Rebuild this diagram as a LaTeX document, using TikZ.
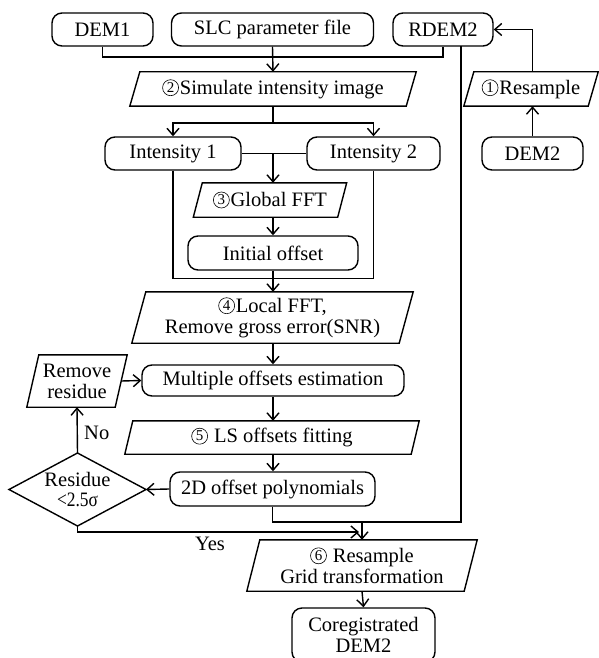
\documentclass[tikz,border=0pt]{standalone}
\usepackage{fontspec}
\setmainfont{Liberation Serif}
\usetikzlibrary{arrows.meta,shapes.geometric,calc}
\newcommand\cn[1]{\tikz[baseline=-6.5pt,x=1pt,y=1pt]{\draw[line width=0.6pt] (0,0) circle (8pt); \node[inner sep=0pt,minimum width=0pt,minimum height=0pt,align=center,font=\fontsize{15}{15}\selectfont] (cn#1) at (0,0.3) {#1};}\hspace{1pt}}
\tikzset{
  ln/.style={line width=1.4pt},
  arr/.style={ln,-{Straight Barb[length=7pt,width=12pt,line width=1.4pt]}},
  rbox/.style={ln,draw,rounded corners=10pt,inner sep=0pt,align=center},
  plain/.style={inner sep=0pt,align=center},
  lbl/.style={inner sep=0pt}
}
\newcommand\paranode[7]{%
  \node[plain,minimum width=#4pt,minimum height=#5pt] (#1) at (#2,#3) {#7};
  \draw[ln] (#1.south west) -- ([xshift=#6pt]#1.north west) -- (#1.north east) -- ([xshift=-#6pt]#1.south east) -- cycle;
}
\begin{document}
\begin{tikzpicture}[x=1pt,y=-1pt,font=\fontsize{20.5}{23}\selectfont]
\useasboundingbox (0,0) rectangle (598,658);
% top row
\node[rbox,minimum width=101pt,minimum height=33pt] (dem1) at (102.5,29.5) {DEM1};
\node[rbox,minimum width=202pt,minimum height=33pt] (slc) at (272.5,29.5) {SLC parameter file};
\node[rbox,minimum width=100pt,minimum height=33pt] (rdem2) at (443,29.5) {RDEM2};
% right branch
\paranode{res1}{531}{89}{134}{34}{10}{\cn{1}Resample}
\node[rbox,minimum width=101pt,minimum height=33pt] (dem2) at (532.5,153.5) {DEM2};
% main column
\paranode{sim}{273}{89}{286}{34}{10}{\cn{2}Simulate intensity image}
\node[rbox,minimum width=136pt,minimum height=33pt] (int1) at (173,153.5) {Intensity 1};
\node[rbox,minimum width=133pt,minimum height=33pt] (int2) at (373.5,153.5) {Intensity 2};
\paranode{gfft}{270}{200}{153}{34}{9}{\cn{3}Global FFT}
\node[rbox,minimum width=170pt,minimum height=34pt] (init) at (273,253) {Initial offset};
\paranode{lfft}{272.5}{317.5}{281}{51}{14}{\cn{4}Local FFT,\\[-2pt]Remove gross error(SNR)}
\node[rbox,minimum width=262pt,minimum height=31pt] (multi) at (273,380.5) {Multiple offsets estimation};
\paranode{remres}{77}{381}{100}{52}{12}{Remove\\[-2pt]residue}
\paranode{lsfit}{272}{437.5}{294}{33}{8}{\cn{5} LS offsets fitting}
\node[rbox,minimum width=205pt,minimum height=34pt] (poly) at (272.5,489) {2D offset polynomials};
\path (9,489.5) coordinate (dl) (146,489.5) coordinate (dr) (77.5,453) coordinate (dt) (77.5,526) coordinate (db);
\draw[ln] (dl) -- (dt) -- (dr) -- (db) -- cycle;
\node[plain] (diamtxt) at (77.5,489.5) {Residue\\[-3pt]{\addfontfeatures{FakeStretch=0.85}<2.5σ}};
\paranode{res6}{362}{565.5}{230}{51}{13}{\cn{6} Resample\\[-2pt]Grid transformation}
\node[rbox,minimum width=143pt,minimum height=54pt] (coreg) at (363.5,635) {Coregistrated\\[-2pt]DEM2};
% connectors top
\coordinate (bus) at (0,57);
\draw[ln] (dem1.south) |- (bus -| rdem2.south) -- (rdem2.south);
\draw[arr] (slc.south) -- (sim.north);
\draw[ln] (sim.south) -- ++(0,17) coordinate (j2);
\draw[arr] (j2) -| (int1.north);
\draw[arr] (j2) -| (int2.north);
\draw[ln] (int1.east) -- (int2.west);
\draw[arr] (int1.east -| init.north) -- (init.north |- gfft.north);
\draw[arr] (init.north |- gfft.south) -- (init.north);
\coordinate (boxb) at (0,278.5);
\draw[ln] (int1.south) -- (int1.south |- boxb) -| (int2.south);
\draw[arr] (init.south) -- (init.south |- lfft.north);
\draw[arr] (init.south |- lfft.south) -- (init.south |- multi.north);
\draw[arr] ([xshift=-6pt]remres.east) -- (multi.west);
\draw[arr] (init.south |- multi.south) -- (init.south |- lsfit.north);
\draw[arr] (init.south |- lsfit.south) -- (init.south |- poly.north);
\draw[arr] (poly.west) -- (dr);
\draw[arr] (dt) -- (remres.south);
\node[lbl,anchor=west] (no) at (84,433) {No};
% right branch connectors
\draw[arr] (dem2.north) -- (dem2.north |- res1.south);
\draw[arr] (dem2.north |- res1.north) |- (rdem2.east);
% bottom
\coordinate (rv) at (461,46);
\coordinate (j3) at (461,522);
\draw[ln] (poly.south) |- (j3) -- (rv);
\draw[arr] (res6.north |- j3) -- (res6.north);
\coordinate (yesend) at (359,532);
\draw[arr] (db) |- (yesend);
\node[lbl] (yes) at (210,544) {Yes};
\draw[arr] (res6.south) -- (coreg.north);
\end{tikzpicture}
\end{document}
